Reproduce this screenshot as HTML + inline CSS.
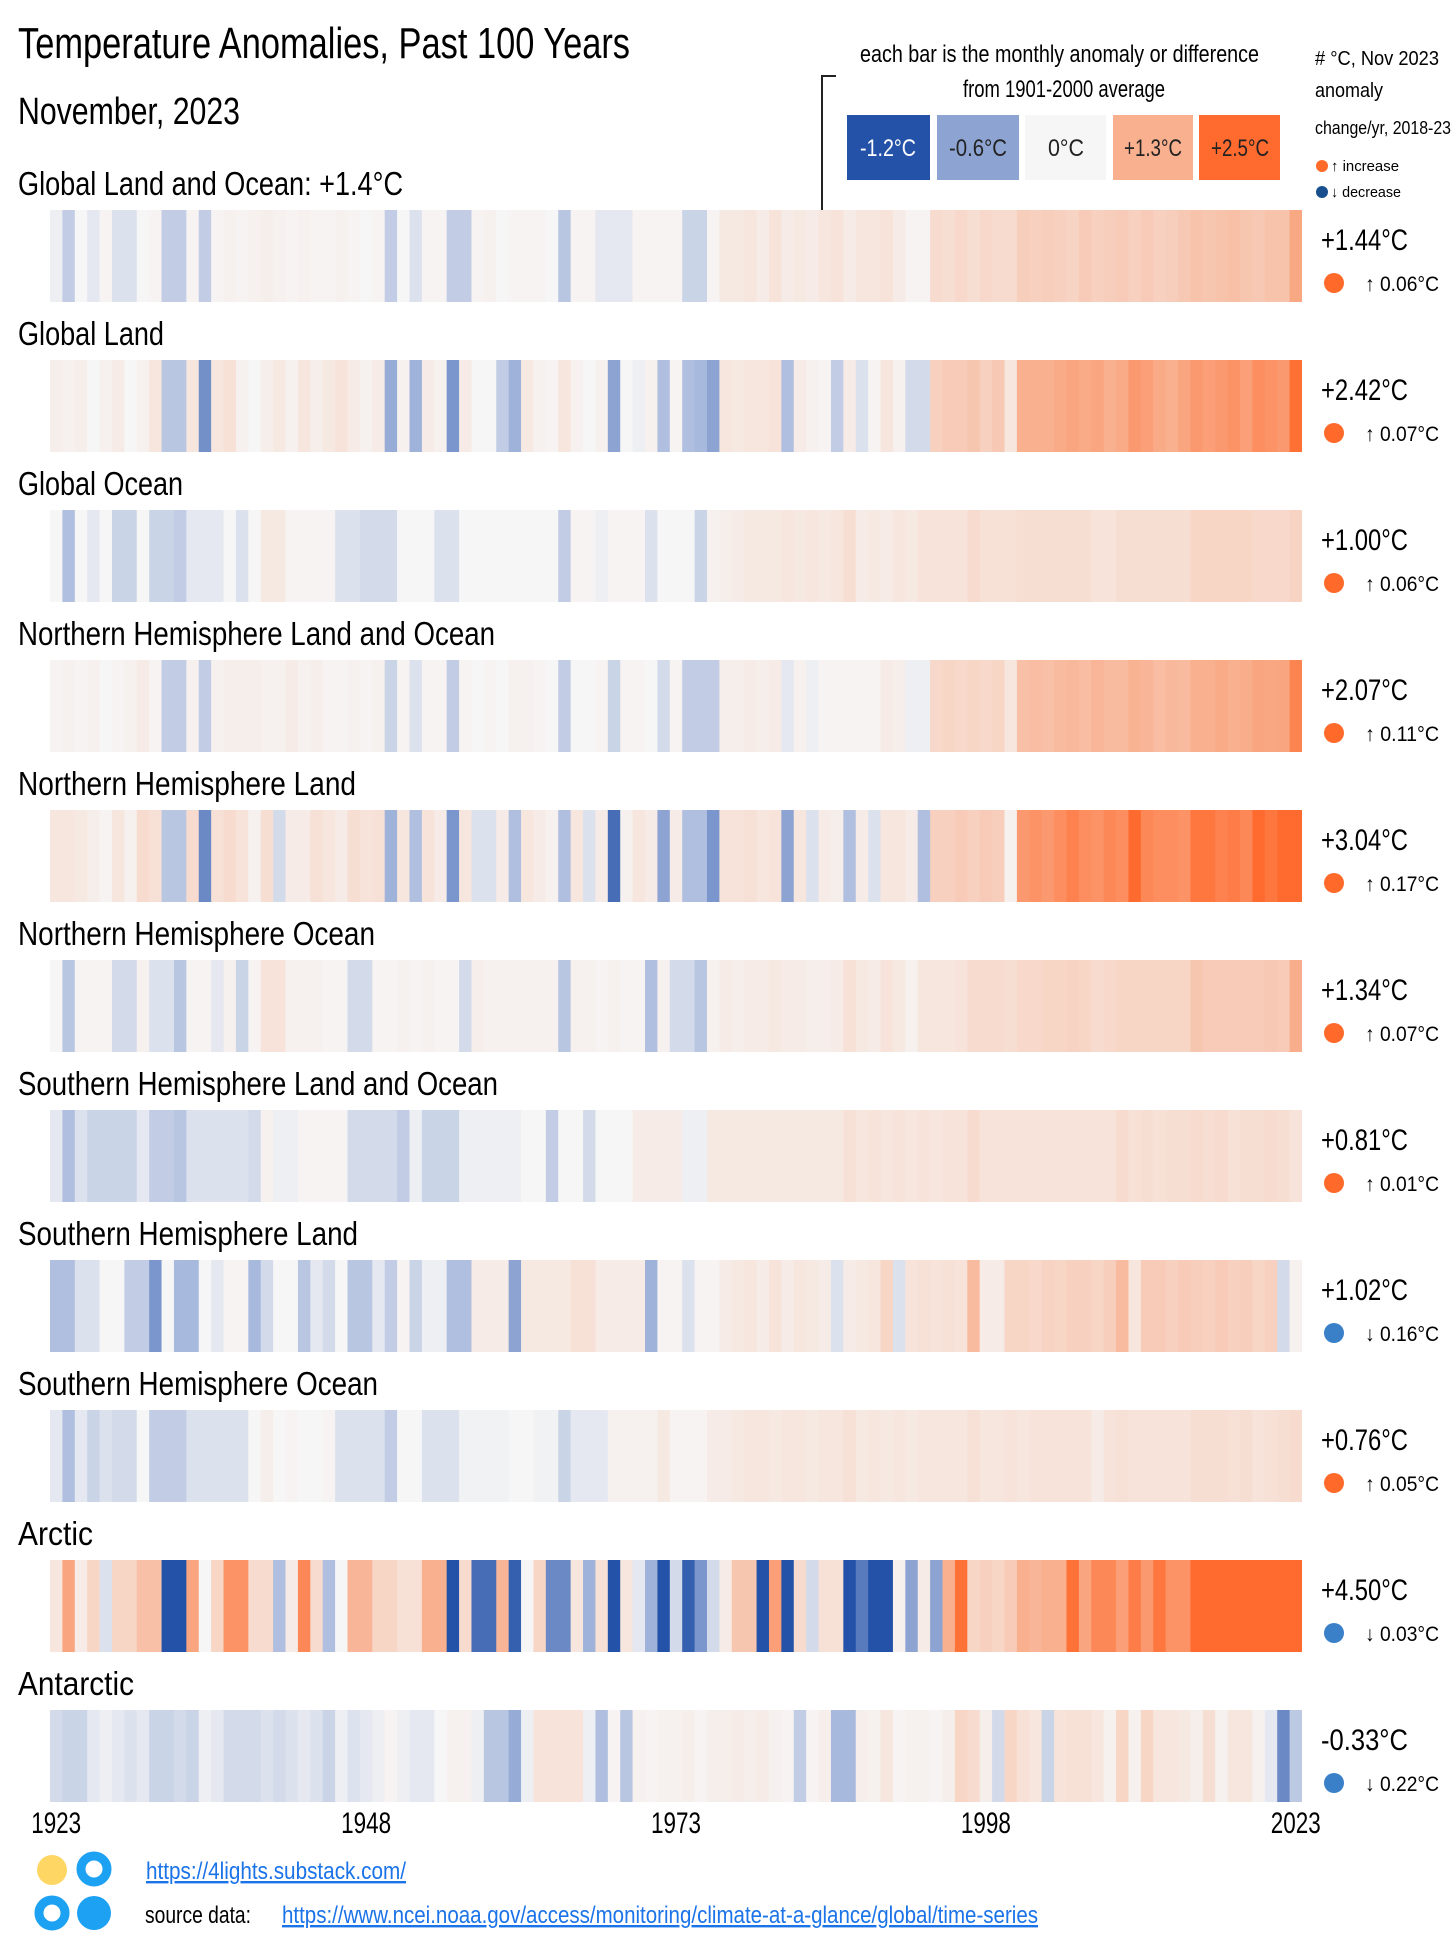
<!DOCTYPE html>
<html><head><meta charset="utf-8"><style>
html,body{margin:0;padding:0;background:#fff;}
svg{display:block;font-family:"Liberation Sans Narrow","Liberation Sans",sans-serif;}
</style></head><body>
<svg id="chart" width="1456" height="1947" viewBox="0 0 1456 1947" xmlns="http://www.w3.org/2000/svg">
<text x="18" y="58" font-size="44" textLength="612" lengthAdjust="spacingAndGlyphs">Temperature Anomalies, Past 100 Years</text>
<text x="18" y="124" font-size="38" textLength="222" lengthAdjust="spacingAndGlyphs">November, 2023</text>
<g>
<text x="860" y="62" font-size="24" textLength="399" lengthAdjust="spacingAndGlyphs">each bar is the monthly anomaly or difference</text>
<text x="1064" y="97" font-size="24" text-anchor="middle" textLength="202" lengthAdjust="spacingAndGlyphs">from 1901-2000 average</text>
<path d="M836 76 H822 V212" stroke="#222" stroke-width="2" fill="none"/>
<rect x="847" y="115" width="83" height="65" fill="#2352a8"/>
<rect x="937" y="115" width="82" height="65" fill="#8da4d3"/>
<rect x="1025" y="115" width="81" height="65" fill="#f6f6f6"/>
<rect x="1113" y="115" width="80" height="65" fill="#f8b08f"/>
<rect x="1199" y="115" width="81" height="65" fill="#ff6b2f"/>
<g font-size="24" text-anchor="middle">
<text x="888" y="156" fill="#fff" textLength="56" lengthAdjust="spacingAndGlyphs">-1.2°C</text>
<text x="978" y="156" fill="#222" textLength="58" lengthAdjust="spacingAndGlyphs">-0.6°C</text>
<text x="1066" y="156" fill="#222" textLength="36" lengthAdjust="spacingAndGlyphs">0°C</text>
<text x="1153" y="156" fill="#222" textLength="58" lengthAdjust="spacingAndGlyphs">+1.3°C</text>
<text x="1240" y="156" fill="#222" textLength="58" lengthAdjust="spacingAndGlyphs">+2.5°C</text>
</g>
</g>
<g font-size="20">
<text x="1315" y="65" textLength="124" lengthAdjust="spacingAndGlyphs"># °C, Nov 2023</text>
<text x="1315" y="97" textLength="68" lengthAdjust="spacingAndGlyphs">anomaly</text>
<text x="1315" y="134" font-size="18" textLength="136" lengthAdjust="spacingAndGlyphs">change/yr, 2018-23</text>
<circle cx="1322" cy="166" r="6" fill="#ff6a2b"/>
<text x="1331" y="171" font-size="15" textLength="68" lengthAdjust="spacingAndGlyphs">↑ increase</text>
<circle cx="1322" cy="192" r="6" fill="#1a4f8f"/>
<text x="1331" y="197" font-size="15" textLength="70" lengthAdjust="spacingAndGlyphs">↓ decrease</text>
</g>
<g id="rows"></g>
<g id="xaxis"></g>
<g>
<circle cx="52" cy="1870" r="15" fill="#fdd663"/>
<circle cx="94" cy="1869" r="13" fill="none" stroke="#1da1f2" stroke-width="9"/>
<circle cx="52" cy="1913" r="13" fill="none" stroke="#1da1f2" stroke-width="9"/>
<circle cx="94" cy="1913" r="17" fill="#1da1f2"/>
<text x="146" y="1879" font-size="24" fill="#1a73e8" text-decoration="underline" textLength="260" lengthAdjust="spacingAndGlyphs">https://4lights.substack.com/</text>
<text x="145" y="1923" font-size="24" textLength="106" lengthAdjust="spacingAndGlyphs">source data:</text>
<text x="282" y="1923" font-size="24" fill="#1a73e8" text-decoration="underline" textLength="756" lengthAdjust="spacingAndGlyphs">https://www.ncei.noaa.gov/access/monitoring/climate-at-a-glance/global/time-series</text>
</g>
</svg>
<script>
const years = Array.from({length:101},(_,i)=>1923+i);
const seriesNames = ["Global Land and Ocean: +1.4°C","Global Land","Global Ocean","Northern Hemisphere Land and Ocean","Northern Hemisphere Land","Northern Hemisphere Ocean","Southern Hemisphere Land and Ocean","Southern Hemisphere Land","Southern Hemisphere Ocean","Arctic","Antarctic"];
const titleWidths = [385,146,165,477,338,357,480,340,360,75,116];
const latestLabels = ["+1.44°C","+2.42°C","+1.00°C","+2.07°C","+3.04°C","+1.34°C","+0.81°C","+1.02°C","+0.76°C","+4.50°C","-0.33°C"];
const trendLabels = ["↑ 0.06°C","↑ 0.07°C","↑ 0.06°C","↑ 0.11°C","↑ 0.17°C","↑ 0.07°C","↑ 0.01°C","↓ 0.16°C","↑ 0.05°C","↓ 0.03°C","↓ 0.22°C"];
const trendUp = [true,true,true,true,true,true,true,false,true,false,false];
const tickYears = [1923,1948,1973,1998,2023];

const globalLandOcean = [-0.05,-0.3,0,-0.1,0.05,-0.15,-0.15,0,0.05,-0.3, -0.3,0.05,-0.3,0.05,0.1,0.05,0.1,0.15,0.1,0.05, 0.1,0.05,0.05,0.1,0.05,0,0.05,-0.3,0,-0.15, 0.05,0.05,-0.3,-0.3,0.05,0.1,0,0.05,0.05,0.05, 0,-0.35,0.05,0.05,-0.1,-0.1,-0.1,0.05,0.05,0.05, 0.05,-0.25,-0.25,0.05,0.25,0.25,0.3,0.2,0.35,0.2, 0.25,0.2,0.3,0.35,0.2,0.3,0.3,0.35,0.2,0.05, 0.05,0.5,0.45,0.55,0.45,0.55,0.5,0.5,0.75,0.7, 0.75,0.7,0.65,0.8,0.7,0.75,0.8,0.7,0.8,0.7, 0.75,0.85,0.95,0.9,0.95,1.0,0.9,0.85,0.95,0.95, 1.44];
const globalLand = [0.15,0.1,0.15,0,0.1,0.2,0,0.1,0.3,-0.35, -0.35,0.3,-0.75,0.3,0.4,0.1,0,0.15,0.25,0.1, 0.3,0.15,0.25,0.35,0.2,0.1,0.2,-0.55,0.1,-0.5, 0.2,0.1,-0.7,0.2,0,0,-0.3,-0.5,0.25,0.1, 0.05,0.3,0.1,0,0.1,-0.6,0,-0.05,0.1,-0.4, 0.05,-0.4,-0.45,-0.6,0.3,0.25,0.3,0.3,0.35,-0.4, 0.2,0.1,0.05,-0.3,0.2,-0.15,0.05,0.3,0.1,-0.2, -0.2,0.7,0.8,0.8,0.9,0.7,0.85,0.3,1.3,1.3, 1.3,1.4,1.5,1.4,1.5,1.3,1.4,1.7,1.6,1.4, 1.3,1.5,1.7,1.6,1.7,1.8,1.6,1.9,1.8,1.7, 2.42];
const globalOcean = [0,-0.4,0,-0.1,0,-0.25,-0.25,0,-0.25,-0.25, -0.3,-0.1,-0.1,-0.1,0,-0.15,0,0.25,0.25,0.05, 0.05,0.05,0.05,-0.15,-0.15,-0.2,-0.2,-0.2,0,0, 0,-0.15,-0.15,0,0,0,0,0,0,0, 0,-0.3,0.05,0.05,-0.05,0.05,0.05,0.05,-0.15,0, 0,0,-0.25,0.1,0.15,0.2,0.25,0.25,0.25,0.3, 0.25,0.3,0.25,0.3,0.45,0.2,0.25,0.2,0.3,0.25, 0.35,0.35,0.35,0.35,0.5,0.4,0.4,0.4,0.45,0.45, 0.45,0.45,0.45,0.45,0.35,0.35,0.45,0.45,0.45,0.45, 0.45,0.45,0.6,0.6,0.6,0.6,0.6,0.55,0.55,0.55, 0.65];
const nhLandOcean = [0.05,0.1,0.05,0.1,0,0.05,0.1,0.2,0.05,-0.3, -0.3,0.1,-0.3,0.1,0.15,0.15,0.15,0.1,0.1,0.2, 0.1,0.15,0.05,0.05,0.1,0.05,0.1,-0.25,0.05,-0.15, 0.05,0.05,-0.3,0.05,0,0.05,0,0.1,0.1,0.05, 0,-0.3,0,0,0.05,-0.25,0.05,0.05,0,-0.2, 0.05,-0.3,-0.3,-0.3,0.15,0.15,0.2,0.15,0.2,-0.1, 0.1,-0.05,0.05,0.05,0.05,0.05,0.05,0.2,0.15,-0.05, -0.05,0.55,0.6,0.55,0.6,0.55,0.6,0.3,1.0,1.05, 1.0,1.1,1.15,1.05,1.2,1.1,1.1,1.25,1.2,1.05, 1.15,1.1,1.3,1.3,1.4,1.3,1.35,1.5,1.45,1.5, 2.07];
const nhLand = [0.3,0.3,0.25,0.15,0.05,0.3,0.1,0.5,0.4,-0.35, -0.35,0.5,-0.8,0.4,0.5,0.35,0.1,0.45,-0.2,0.2, 0.2,0.4,0.3,0.2,0.45,0.35,0.4,-0.5,0.3,-0.4, 0.35,0.2,-0.7,0.3,-0.15,-0.15,0.2,-0.4,0.3,0.2, 0.1,-0.4,0.3,-0.15,0.2,-1.0,0.1,0.3,0.2,-0.6, 0.2,-0.4,-0.4,-0.7,0.35,0.35,0.4,0.3,0.35,-0.6, 0.3,-0.15,0.2,0.15,-0.4,0.2,-0.15,0.3,0.3,0.2, -0.4,0.7,0.7,0.8,0.7,0.8,0.75,0.1,1.7,1.8, 1.7,1.9,2.1,1.9,1.8,2.0,1.9,2.6,2.0,1.9, 1.9,1.8,2.3,2.3,2.1,2.2,2.0,2.8,2.3,2.5, 3.04];
const nhOcean = [0,-0.35,0.05,0.05,0.05,-0.2,-0.2,0.1,-0.15,-0.15, -0.35,0.05,0.05,-0.1,0.1,-0.25,0.05,0.35,0.35,0.1, 0.1,0.1,0.05,0.05,-0.2,-0.2,0.05,0.05,0.1,0.05, 0.1,0.05,0.05,-0.2,0.15,0.1,0.1,0.1,0.1,0.1, 0.1,-0.35,0.1,0.1,0.05,0.1,0.05,0.05,-0.4,0.1, -0.2,-0.2,-0.35,0.1,0.2,0.15,0.2,0.2,0.25,0.2, 0.2,0.15,0.15,0.2,0.4,0.25,0.2,0.35,0.25,0.1, 0.3,0.3,0.3,0.35,0.5,0.5,0.5,0.45,0.55,0.55, 0.6,0.6,0.65,0.6,0.5,0.55,0.6,0.6,0.6,0.6, 0.6,0.6,0.9,0.8,0.8,0.8,0.8,0.8,0.85,0.8, 1.34];
const shLandOcean = [-0.1,-0.4,-0.15,-0.25,-0.25,-0.25,-0.25,-0.1,-0.3,-0.3, -0.35,-0.15,-0.15,-0.15,-0.15,-0.15,-0.2,0.1,-0.05,-0.05, 0.05,0.05,0.05,0.05,-0.2,-0.2,-0.2,-0.2,-0.3,-0.05, -0.25,-0.25,-0.25,-0.05,-0.05,-0.05,-0.05,-0.05,0,0, -0.3,0,0,-0.2,0,0,0,0.2,0.2,0.2, 0.2,-0.05,-0.05,0.25,0.25,0.25,0.25,0.25,0.25,0.25, 0.25,0.25,0.25,0.25,0.4,0.3,0.35,0.3,0.35,0.3, 0.35,0.3,0.35,0.35,0.5,0.35,0.35,0.35,0.35,0.35, 0.35,0.35,0.35,0.35,0.35,0.35,0.5,0.4,0.45,0.4, 0.45,0.45,0.5,0.45,0.5,0.4,0.45,0.45,0.5,0.45, 0.35];
const shLand = [-0.4,-0.4,-0.15,-0.15,0,0,-0.3,-0.3,-0.7,0, -0.45,-0.45,0,-0.1,0.05,0.05,-0.45,-0.2,0,0, -0.35,-0.1,-0.2,0,-0.35,-0.35,-0.1,-0.3,0.05,-0.25, -0.05,-0.05,-0.4,-0.4,0.2,0.2,0.2,-0.6,0.25,0.25, 0.25,0.25,0.4,0.4,0.2,0.2,0.2,0.2,-0.5,0.05, 0.05,-0.15,0.05,0.05,0.2,0.25,0.3,0.2,0.35,0.2, 0.3,0.25,0.2,-0.15,0.2,0.25,0.3,0.6,-0.15,0.35, 0.4,0.35,0.4,0.35,1.1,0.2,0.2,0.6,0.6,0.55, 0.65,0.6,0.7,0.7,0.6,0.75,1.1,0.3,0.8,0.8, 0.7,0.8,0.75,0.7,0.8,0.7,0.75,0.6,0.7,-0.2, 0.1];
const shOcean = [-0.1,-0.4,-0.1,-0.25,-0.15,-0.2,-0.2,0,-0.3,-0.3, -0.3,-0.15,-0.15,-0.15,-0.15,-0.15,0,0.15,0,0.05, 0,0,0.05,-0.15,-0.15,-0.15,-0.15,-0.3,0,0, -0.15,-0.15,-0.15,-0.03,-0.03,-0.03,-0.03,0,0,-0.03, -0.03,-0.25,-0.1,-0.1,-0.1,0.1,0.1,0.1,0.1,0.25, 0.05,0.05,0.05,0.2,0.2,0.25,0.3,0.3,0.25,0.3, 0.3,0.25,0.3,0.3,0.4,0.25,0.3,0.25,0.3,0.25, 0.3,0.3,0.3,0.3,0.4,0.3,0.3,0.35,0.3,0.35, 0.35,0.35,0.35,0.35,0.2,0.35,0.4,0.35,0.35,0.35, 0.35,0.35,0.45,0.45,0.45,0.4,0.45,0.35,0.4,0.45, 0.5];
const arctic = [0.3,1.5,0.2,0.6,-0.15,0.6,0.6,1.0,1.0,-1.2, -1.2,1.5,0,0.6,1.8,1.8,0.5,0.5,-0.4,0.2, 2.0,0.5,-0.4,0,1.2,1.2,0.6,0.6,0.4,0.4, 1.3,1.3,-1.3,0.5,-1.0,-1.0,1.2,-1.1,0,0.6, -0.8,-0.8,0.3,-0.5,0.4,-1.3,0.3,-0.1,-0.5,-1.2, -0.2,-1.1,-0.7,-0.2,0.2,0.9,0.9,-1.2,1.6,-1.2, 0.5,-0.2,0.4,0.4,-1.2,-0.9,-1.3,-1.3,0.1,-0.6, 0.2,-0.6,1.3,2.4,0.6,0.7,0.6,0.8,1.3,1.2, 1.3,1.3,2.4,1.5,2.0,2.0,1.6,2.2,1.7,2.3, 1.8,1.8,2.6,2.7,2.8,2.6,2.9,2.7,2.6,2.8, 4.5];
const antarctic = [-0.2,-0.25,-0.25,-0.1,-0.05,-0.1,-0.15,-0.1,-0.25,-0.25, -0.2,-0.25,-0.05,-0.1,-0.2,-0.2,-0.2,-0.15,-0.2,-0.15, -0.1,-0.15,-0.25,-0.05,-0.15,-0.1,-0.05,0.05,-0.05,-0.1, -0.1,0,0.1,0.1,-0.05,-0.35,-0.35,-0.55,-0.05,0.35, 0.35,0.35,0.35,-0.05,-0.4,0.05,-0.35,0.1,0.05,0.1, 0.1,0.15,0.05,0.15,0.15,0.2,0.15,0.2,0.1,0.05, -0.3,0.05,0.15,-0.45,-0.45,0.15,0.1,0.3,0.05,0.1, 0.1,0.05,0.15,0.6,0.5,0.15,-0.2,0.6,0.4,0.3, -0.25,0.35,0.4,0.4,0.3,0.1,0.6,0.1,0.6,0.3, 0.3,0.25,0.15,0.45,0.1,0.3,0.3,0.1,-0.1,-0.8, -0.33];
const allSeries = [globalLandOcean,globalLand,globalOcean,nhLandOcean,nhLand,nhOcean,shLandOcean,shLand,shOcean,arctic,antarctic];

const X0 = 50, X1 = 1302, ROW0 = 210, ROWSTEP = 150, STRIP_H = 92;
const xScale = i => X0 + (X1 - X0) * i / years.length;
const barW = (X1 - X0) / years.length;
const stops = [[-1.2,[35,82,168]],[-0.6,[141,164,211]],[0,[246,246,246]],[1.3,[248,176,143]],[2.5,[255,107,47]]];
function colorScale(v){
  if(v<=stops[0][0]) return 'rgb('+stops[0][1].join(',')+')';
  for(let k=1;k<stops.length;k++){
    if(v<=stops[k][0]){
      const a=stops[k-1],b=stops[k],t=(v-a[0])/(b[0]-a[0]);
      return 'rgb('+a[1].map((c,j)=>Math.round(c+(b[1][j]-c)*t)).join(',')+')';
    }
  }
  return 'rgb('+stops[stops.length-1][1].join(',')+')';
}
const NS='http://www.w3.org/2000/svg';
const rows=document.getElementById('rows');
allSeries.forEach((vals,r)=>{
  const top=ROW0+r*ROWSTEP;
  const g=document.createElementNS(NS,'g');
  
  
  const t=document.createElementNS(NS,'text');
  
  
  t.setAttribute('x',18);t.setAttribute('y',top-15);t.setAttribute('font-size',33);
  t.setAttribute('textLength',titleWidths[r]);t.setAttribute('lengthAdjust','spacingAndGlyphs');
  t.textContent=seriesNames[r];
  g.appendChild(t);
  vals.forEach((v,i)=>{
    const rc=document.createElementNS(NS,'rect');
    
    
    rc.setAttribute('x',xScale(i).toFixed(2));
    rc.setAttribute('y',top);
    rc.setAttribute('width',(i===vals.length-1?barW:barW+0.6).toFixed(2));
    rc.setAttribute('height',STRIP_H);
    rc.setAttribute('fill',colorScale(v));
    g.appendChild(rc);
  });
  const lv=document.createElementNS(NS,'text');
  
  
  lv.setAttribute('x',1321);lv.setAttribute('y',top+40);lv.setAttribute('font-size',30);
  lv.setAttribute('textLength',87);lv.setAttribute('lengthAdjust','spacingAndGlyphs');
  lv.textContent=latestLabels[r];
  g.appendChild(lv);
  const c=document.createElementNS(NS,'circle');
  
  
  c.setAttribute('cx',1334);c.setAttribute('cy',top+73);c.setAttribute('r',10);
  c.setAttribute('fill',trendUp[r]?'#ff6a2b':'#3a80c8');
  g.appendChild(c);
  const tl=document.createElementNS(NS,'text');
  
  
  tl.setAttribute('x',1365);tl.setAttribute('y',top+81);tl.setAttribute('font-size',21);
  tl.setAttribute('textLength',74);tl.setAttribute('lengthAdjust','spacingAndGlyphs');
  tl.textContent=trendLabels[r];
  g.appendChild(tl);
  rows.appendChild(g);
});
const xa=document.getElementById('xaxis');
tickYears.forEach((y,k)=>{
  const i=y-years[0];
  const t=document.createElementNS(NS,'text');
  
  
  let x=xScale(i)+barW/2;
  if(k===0) x=Math.max(x,44);
  t.setAttribute('x',x.toFixed(1));
  t.setAttribute('y',1833);t.setAttribute('font-size',30);
  t.setAttribute('text-anchor','middle');
  t.setAttribute('textLength',50);t.setAttribute('lengthAdjust','spacingAndGlyphs');
  t.textContent=String(y);
  xa.appendChild(t);
});
</script>
</body></html>
